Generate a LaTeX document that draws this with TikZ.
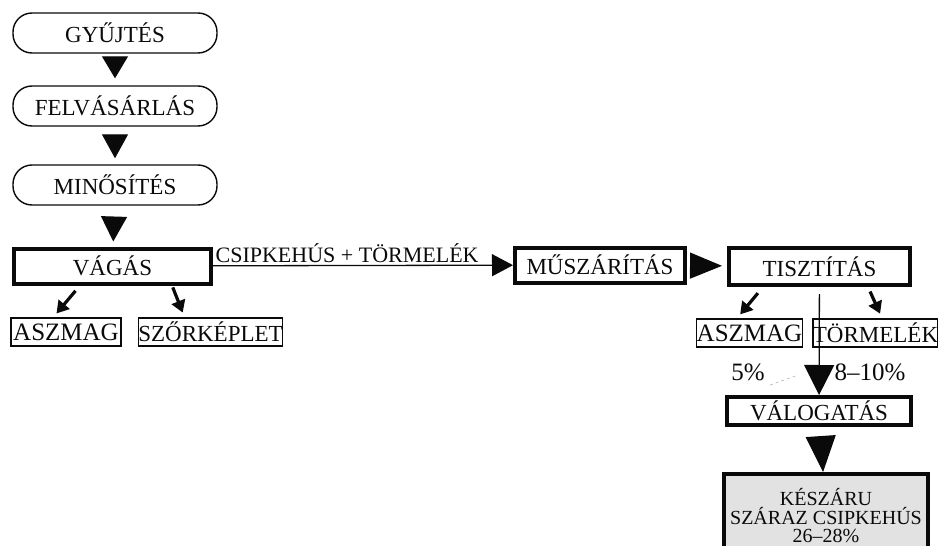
\documentclass[tikz,border=0pt]{standalone}
\usepackage{fontspec}
\setmainfont{Liberation Serif}
\usetikzlibrary{arrows.meta}
\definecolor{flowblack}{RGB}{10,10,10}
\definecolor{stipple}{RGB}{226,226,226}
\newcommand{\mainsize}{\fontsize{23}{25}\selectfont}
\newcommand{\bigsize}{\fontsize{25}{27}\selectfont}
\newcommand{\lablsize}{\fontsize{22}{24}\selectfont}
\newcommand{\lastsize}{\fontsize{20}{18.5}\selectfont}
\tikzset{
  every node/.style={font=\mainsize,text=flowblack},
  roundbox/.style={draw=flowblack,line width=1.4pt,rounded corners=19pt,
    minimum width=204pt,minimum height=40pt,inner sep=0pt},
  thickbox/.style={draw=flowblack,line width=4pt,inner sep=0pt},
  thinbox/.style={draw=flowblack,line width=1.5pt,inner sep=0pt},
  bigtri/.style={draw=flowblack,line width=1.2pt,
    -{Triangle[length=#1,width=26pt]}},
  smallarr/.style={draw=flowblack,line width=3.2pt,
    -{Triangle[length=12pt,width=14pt]}},
}
\begin{document}
\begin{tikzpicture}[x=1pt,y=-1pt]
  \clip (0,0) rectangle (938,546);
  % left column
  \node[roundbox] (gyujt) at (115,33) {GYŰJTÉS};
  \node[roundbox] (felv) at (115,106) {FELVÁSÁRLÁS};
  \node[roundbox] (minos) at (115,185) {MINŐSÍTÉS};
  \node[thickbox,minimum width=197pt,minimum height=35pt] (vagas) at (112.5,266) {VÁGÁS};
  \node[thinbox,minimum width=110pt,minimum height=28pt,font=\bigsize] (aszl) at (66,332) {ASZMAG};
  \node[thinbox,minimum width=143pt,minimum height=28pt] (szor) at (210.5,332) {SZŐRKÉPLET};
  % right part
  \node[thickbox,minimum width=170pt,minimum height=35pt] (musz) at (600,265) {MŰSZÁRÍTÁS};
  \node[thickbox,minimum width=181pt,minimum height=37pt] (tiszt) at (819.5,266.5) {TISZTÍTÁS};
  \node[thinbox,minimum width=103pt,minimum height=28pt,font=\bigsize] (aszr) at (749.5,333) {ASZMAG};
  \node[thinbox,minimum width=119pt,minimum height=28pt] (torm) at (875.5,333) {TÖRMELÉK};
  \node[font=\bigsize] (pasz) at (748,372) {5\%};
  \node[font=\bigsize] (ptorm) at (870,372) {8–10\%};
  \node[thickbox,minimum width=184pt,minimum height=28pt] (valog) at (819,411) {VÁLOGATÁS};
  \node[thickbox,fill=stipple,minimum width=204pt,minimum height=84pt,
    align=center,font=\lastsize] (kesz) at (826,516)
    {KÉSZÁRU\\SZÁRAZ CSIPKEHÚS\\26–28\%};
  % connectors
  \draw[bigtri=22pt,shorten <=3pt,shorten >=7pt] (gyujt) -- (felv);
  \draw[bigtri=24pt,shorten <=9pt,shorten >=6pt] (felv) -- (minos);
  \draw[bigtri=25pt,shorten <=12pt,shorten >=5pt] (minos) -- (vagas);
  \draw[draw=flowblack,line width=1.3pt,-{Triangle[length=21pt,width=22pt]}]
    (vagas) -- node[pos=0,above right,inner sep=2pt,font=\lablsize]
    {CSIPKEHÚS + TÖRMELÉK} (musz);
  \draw[bigtri=32pt,shorten <=7pt,shorten >=5pt] (musz) -- (tiszt);
  \draw[draw=flowblack,line width=1.3pt,shorten <=7pt,
    -{Triangle[length=30pt,width=30pt]}] (tiszt) -- (valog);
  \draw[draw=flowblack,line width=1.2pt,shorten <=13pt,
    -{Triangle[length=36pt,width=30pt]}] (valog) -- (kesz);
  \draw[smallarr,shorten <=7pt,shorten >=5pt]
    ([xshift=68pt]vagas.south west) -- ([xshift=43pt]aszl.north west);
  \draw[smallarr,shorten <=2pt,shorten >=5pt]
    ([xshift=160pt]vagas.south west) -- ([xshift=47pt]szor.north west);
  \draw[smallarr,shorten <=8pt,shorten >=5pt]
    ([xshift=36pt]tiszt.south west) -- ([xshift=41pt]aszr.north west);
  \draw[smallarr,shorten <=5pt,shorten >=5pt]
    ([xshift=141pt]tiszt.south west) -- ([xshift=70pt]torm.north west);
  % faint dashed stroke
  \coordinate (dashA) at (770,385);
  \coordinate (dashB) at (798,375);
  \draw[gray!60,line width=0.6pt,dashed] (dashA) -- (dashB);
\end{tikzpicture}
\end{document}
